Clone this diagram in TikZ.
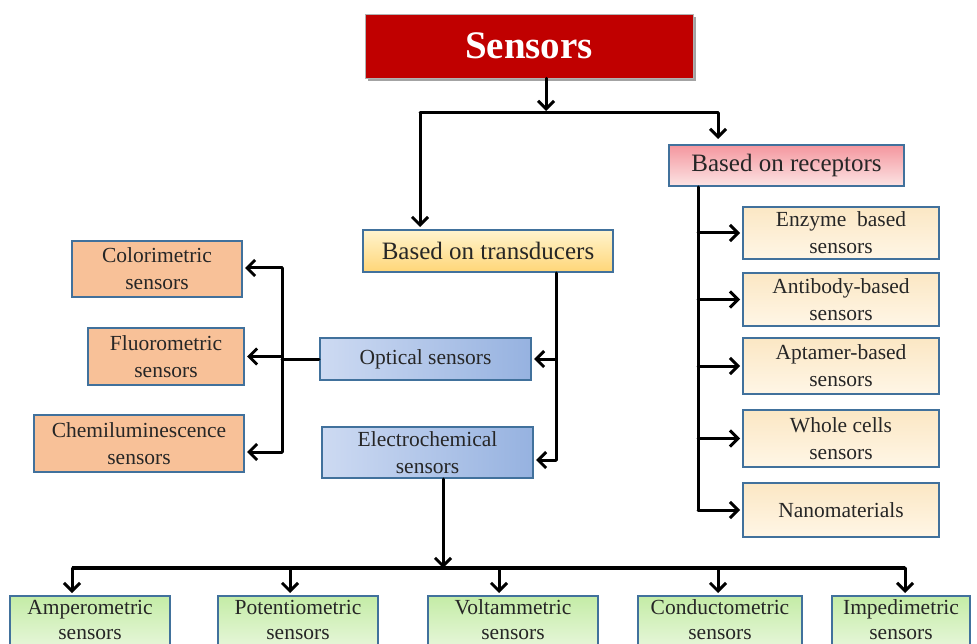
\documentclass[tikz,border=0pt]{standalone}
\usepackage{fontspec}
\setmainfont{Liberation Serif}
\usetikzlibrary{arrows.meta,shadows}
\definecolor{bord}{HTML}{41719C}
\definecolor{sred}{HTML}{C00000}
\tikzset{
  box/.style={draw=bord, line width=2pt, inner sep=0pt, align=center,
    font=\fontsize{21.5}{27}\selectfont, text=black!85},
  hdr/.style={box, font=\fontsize{25}{30}\selectfont},
  orng/.style={box, fill={rgb,255:red,248;green,193;blue,152}},
  beige/.style={box, top color={rgb,255:red,251;green,231;blue,196}, bottom color={rgb,255:red,255;green,246;blue,230}},
  grn/.style={box, top color={rgb,255:red,196;green,236;blue,166}, bottom color={rgb,255:red,236;green,248;blue,226}, font=\fontsize{21.5}{25}\selectfont},
  blu/.style={box, left color={rgb,255:red,205;green,218;blue,242}, right color={rgb,255:red,150;green,178;blue,224}},
  conn/.style={line width=3pt, line cap=round},
  arr/.style={conn, shorten >=2pt, -{Straight Barb[length=8pt,width=16pt,line width=3pt]}},
}
\begin{document}
\begin{tikzpicture}[x=1pt,y=-1pt]
\useasboundingbox (0,0) rectangle (977,644);
\clip (0,0) rectangle (977,644);
\fill[white] (0,0) rectangle (977,644);

% top
\node[fill=sred, draw=black!30, line width=0.8pt, inner sep=0pt, minimum width=328pt, minimum height=64pt,
  text=white, font=\fontsize{39}{44}\selectfont\bfseries,
  drop shadow={shadow xshift=3pt, shadow yshift=-3pt, fill=black!60, opacity=0.6}] (s) at (529,46) {Sensors};

\node[hdr, top color={rgb,255:red,255;green,244;blue,206}, bottom color={rgb,255:red,255;green,214;blue,120},
  minimum width=250pt, minimum height=42pt] (t) at (488,251) {Based on transducers};
\node[hdr, top color={rgb,255:red,244;green,150;blue,158}, bottom color={rgb,255:red,252;green,228;blue,228},
  minimum width=235pt, minimum height=41pt] (r) at (786.5,165.5) {Based on receptors};

\node[blu, minimum width=211pt, minimum height=42pt] (o) at (425.5,359) {Optical sensors};
\node[blu, minimum width=211pt, minimum height=51pt] (e) at (427.5,452.5) {Electrochemical\\sensors};

\node[orng, minimum width=170pt, minimum height=56pt] (c) at (157,269) {Colorimetric\\sensors};
\node[orng, minimum width=156pt, minimum height=57pt] (f) at (166,356.5) {Fluorometric\\sensors};
\node[orng, minimum width=210pt, minimum height=57pt] (ch) at (139,443.5) {Chemiluminescence\\sensors};

\node[beige, minimum width=196pt, minimum height=52pt] (r1) at (841,233) {Enzyme\ \ based\\sensors};
\node[beige, minimum width=196pt, minimum height=53pt] (r2) at (841,299.5) {Antibody-based\\sensors};
\node[beige, minimum width=196pt, minimum height=56pt] (r3) at (841,366) {Aptamer-based\\sensors};
\node[beige, minimum width=196pt, minimum height=57pt] (r4) at (841,438.5) {Whole cells\\sensors};
\node[beige, minimum width=196pt, minimum height=54pt] (r5) at (841,510) {Nanomaterials};

\foreach \n/\cx/\w/\txt in {b1/90/160/Amperometric, b2/298/160/Potentiometric, b3/513/170/Voltammetric,
    b4/720/164/Conductometric, b5/901/138/Impedimetric}{
  \node[grn, minimum width=\w pt, minimum height=60pt] (\n) at (\cx,626) {};
  \node[font=\fontsize{21.5}{25}\selectfont, text=black!85, align=center, inner sep=0pt] (\n t) at (\cx,620) {\txt\\sensors};
}

% connectors from top
\coordinate (j1) at (420,113);
\coordinate (j2) at (718,113);
\coordinate (js) at (546,111);
\draw[arr, shorten >=0pt] (s.south -| js) -- (js);
\draw[conn] (j1) -- (j2);
\draw[arr] (j1) -- (t.north -| j1);
\draw[arr, shorten >=5pt] (j2) -- (r.north -| j2);

% transducers branch
\coordinate (tx) at (556,460);
\draw[conn] (t.south -| tx) -- (tx);
\draw[arr] (o.east -| tx) -- (o.east);
\draw[arr] (tx) -- (tx -| e.east);

% optical branch
\coordinate (ox1) at (282,268);
\coordinate (ox2) at (282,452);
\draw[conn] (o.west) -- (o.west -| ox1);
\draw[conn] (ox1) -- (ox2);
\draw[arr] (ox1) -- (ox1 -| c.east);
\draw[arr] (f.east -| ox1) -- (f.east);
\draw[arr] (ox2) -- (ox2 -| ch.east);

% receptors branch
\coordinate (rx) at (698,510);
\draw[conn] (r.south -| rx) -- (rx);
\foreach \n in {r1,r2,r3,r4,r5} \draw[arr] (\n.west -| rx) -- (\n.west);

% electrochemical branch
\coordinate (ey) at (443,568);
\draw[arr, shorten >=0pt] (e.south -| ey) -- (ey);
\coordinate (h1) at (72,568);
\coordinate (h2) at (905,568);
\draw[line width=4.5pt] (h1) -- (h2);
\foreach \n/\x in {b1/72,b2/290,b3/499,b4/718,b5/905}
  \draw[arr] (\x,568) -- (\n.north -| \x,0);
\end{tikzpicture}
\end{document}
